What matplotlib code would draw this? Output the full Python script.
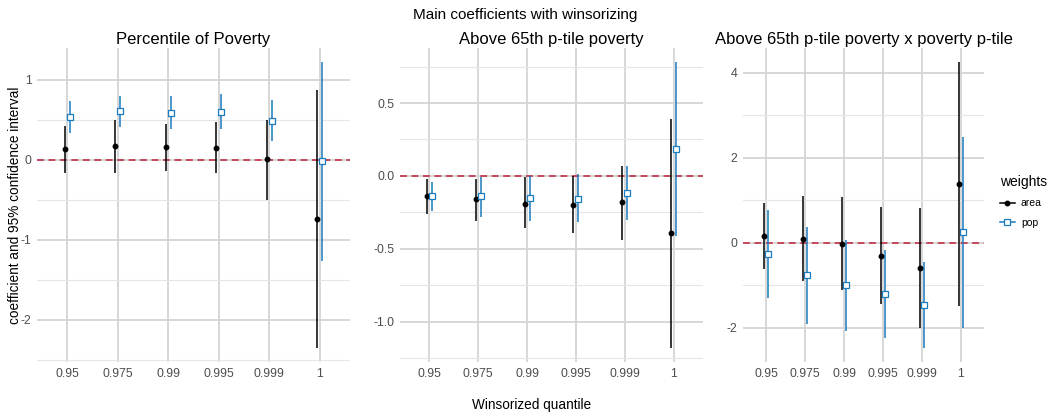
import numpy as np
import matplotlib
matplotlib.use("Agg")
import matplotlib.pyplot as plt
from matplotlib.lines import Line2D
from matplotlib.ticker import MultipleLocator

plt.rcParams['font.family'] = ['Liberation Sans', 'DejaVu Sans']
plt.rcParams['axes.unicode_minus'] = False

quantiles = ["0.95", "0.975", "0.99", "0.995", "0.999", "1"]
titles = ["Percentile of Poverty", "Above 65th p-tile poverty",
          "Above 65th p-tile poverty x poverty p-tile"]

# Panel 1: Percentile of Poverty
p1_area_est = [0.13, 0.17, 0.16, 0.15, 0.01, -0.74]
p1_area_lo = [-0.16, -0.16, -0.14, -0.17, -0.50, -2.35]
p1_area_hi = [0.42, 0.50, 0.45, 0.47, 0.50, 0.87]
p1_pop_est = [0.53, 0.61, 0.59, 0.60, 0.49, -0.02]
p1_pop_lo = [0.33, 0.41, 0.39, 0.38, 0.23, -1.26]
p1_pop_hi = [0.73, 0.80, 0.80, 0.82, 0.75, 1.22]

# Panel 2: Above 65th p-tile poverty
p2_area_est = [-0.137, -0.16, -0.19, -0.20, -0.18, -0.39]
p2_area_lo = [-0.26, -0.31, -0.36, -0.39, -0.44, -1.18]
p2_area_hi = [-0.02, -0.02, -0.01, 0.00, 0.07, 0.39]
p2_pop_est = [-0.137, -0.14, -0.155, -0.16, -0.12, 0.185]
p2_pop_lo = [-0.24, -0.28, -0.31, -0.32, -0.30, -0.41]
p2_pop_hi = [-0.04, -0.01, 0.00, 0.01, 0.07, 0.78]

# Panel 3: Above 65th p-tile poverty x poverty p-tile
p3_area_est = [0.165, 0.10, -0.02, -0.31, -0.59, 1.38]
p3_area_lo = [-0.62, -0.90, -1.10, -1.45, -2.00, -1.48]
p3_area_hi = [0.94, 1.10, 1.07, 0.84, 0.82, 4.25]
p3_pop_est = [-0.27, -0.75, -1.00, -1.21, -1.46, 0.25]
p3_pop_lo = [-1.29, -1.90, -2.07, -2.24, -2.47, -2.00]
p3_pop_hi = [0.77, 0.38, 0.06, -0.17, -0.45, 2.49]

panels = [
    (p1_area_est, p1_area_lo, p1_area_hi, p1_pop_est, p1_pop_lo, p1_pop_hi),
    (p2_area_est, p2_area_lo, p2_area_hi, p2_pop_est, p2_pop_lo, p2_pop_hi),
    (p3_area_est, p3_area_lo, p3_area_hi, p3_pop_est, p3_pop_lo, p3_pop_hi),
]
major_steps = [1.0, 0.5, 2.0]

W, H = 1050, 416
fig = plt.figure(figsize=(W / 100, H / 100), dpi=100)
boxes = [(37, 350), (400, 703), (743, 984)]
top_px, bot_px = 48, 362

grid_major = '#d4d4d4'
grid_minor = '#e6e6e6'
blue = '#1a7bbf'
dodge = 0.05

for i, (box, data, step) in enumerate(zip(boxes, panels, major_steps)):
    l, r = box
    ax = fig.add_axes([l / W, 1 - bot_px / H, (r - l) / W, (bot_px - top_px) / H])
    ae, alo, ahi, pe, plo, phi = [np.array(d) for d in data]
    x = np.arange(len(quantiles))
    ax.vlines(x - dodge, alo, ahi, color='black', lw=1.1, zorder=3)
    ax.plot(x - dodge, ae, 'o', color='black', ms=3.2, zorder=4)
    ax.vlines(x + dodge, plo, phi, color=blue, lw=1.1, zorder=3)
    ax.plot(x + dodge, pe, 's', mfc='white', mec=blue, mew=0.9, ms=4.6, zorder=4)
    ax.axhline(0, color='#c0223b', lw=1.1, ls=(0, (4.5, 3)), zorder=2.5)
    lo = min(alo.min(), plo.min())
    hi = max(ahi.max(), phi.max())
    pad = 0.05 * (hi - lo)
    ax.set_ylim(lo - pad, hi + pad)
    ax.set_xlim(-0.6, len(quantiles) - 1 + 0.6)
    ax.set_xticks(x)
    ax.set_xticklabels(quantiles)
    ax.yaxis.set_major_locator(MultipleLocator(step))
    ax.yaxis.set_minor_locator(MultipleLocator(step / 2))
    ax.grid(True, which='major', color=grid_major, lw=1.3, zorder=0)
    ax.grid(True, which='minor', axis='y', color=grid_minor, lw=0.8, zorder=0)
    ax.set_axisbelow(True)
    for s in ax.spines.values():
        s.set_visible(False)
    ax.tick_params(which='both', length=0, labelsize=8.8, colors='#4d4d4d', pad=4)
    ax.set_title(titles[i], fontsize=12, pad=3, color='black')
    if i == 0:
        ax.set_ylabel("coefficient and 95% confidence interval", fontsize=9.8,
                      va='center')
        ax.yaxis.set_label_coords((15 - l) / (r - l), 0.5)

fig.suptitle("Main coefficients with winsorizing", x=0.5, y=1 - 15 / H,
             va='center', fontsize=11)
fig.text(532 / W, 1 - 405 / H, "Winsorized quantile", ha='center', va='center', fontsize=9.8)

handles = [
    Line2D([], [], color='black', lw=1.1, marker='o', ms=3.2),
    Line2D([], [], color=blue, lw=1.1, marker='s', ms=4.6, mfc='white', mec=blue, mew=0.9),
]
leg = fig.legend(handles, ['area', 'pop'], title='weights',
                 loc='upper left', bbox_to_anchor=(1000 / W, 1 - 175 / H),
                 frameon=False, fontsize=7.5, title_fontsize=10,
                 handlelength=1.4, handletextpad=0.6, labelspacing=0.9,
                 borderaxespad=0, borderpad=0)
leg._legend_box.align = 'left'

fig.savefig('out.png', dpi=100)
